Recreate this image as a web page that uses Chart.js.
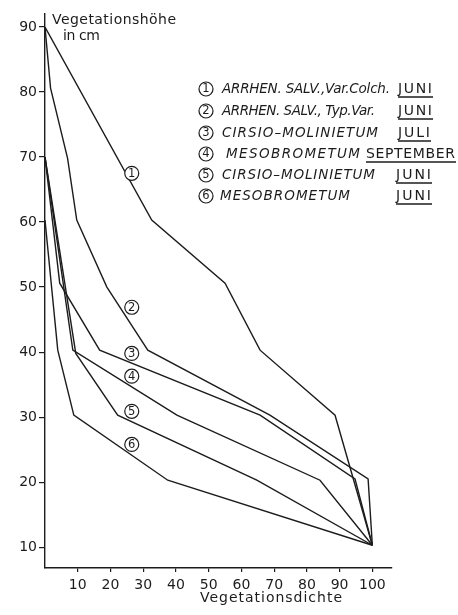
<!DOCTYPE html>
<html>
<head>
<meta charset="utf-8">
<script src="https://cdn.jsdelivr.net/npm/chart.js@4"></script>
<style>
  html, body { margin: 0; background: #fff; }
  #chart { display: block; }
</style>
</head>
<body>
<canvas id="chart" width="458" height="615"></canvas>
<script>
// density (x) and height (y) for each curve
const curve1Dens = [0, 32.6, 55.0, 65.7, 88.6, 100]
const curve1Height = [90, 60.3, 50.6, 40.3, 30.3, 10.3]
const curve2Dens = [0, 1.7, 6.9, 9.7, 18.9, 31.4, 68.7, 98.7, 100]
const curve2Height = [90, 80.6, 69.8, 60.3, 50.0, 40.3, 30.3, 20.5, 10.3]
const curve3Dens = [0, 4.5, 16.7, 65.7, 94.7, 100]
const curve3Height = [70, 50.6, 40.3, 30.3, 20.5, 10.3]
const curve4Dens = [0, 8.5, 40.3, 84.0, 100]
const curve4Height = [70, 40.3, 30.3, 20.3, 10.3]
const curve5Dens = [0, 9.4, 22.2, 64.7, 100]
const curve5Height = [70, 39.8, 30.3, 20.3, 10.3]
const curve6Dens = [0, 3.9, 8.8, 37.5, 100]
const curve6Height = [60.3, 40.3, 30.3, 20.3, 10.3]

const xTicks = [10, 20, 30, 40, 50, 60, 70, 80, 90, 100]
const yTicks = [10, 20, 30, 40, 50, 60, 70, 80, 90]

const legendNames = ['ARRHEN. SALV.,Var.Colch.', 'ARRHEN. SALV., Typ.Var.', 'CIRSIO–MOLINIETUM',
  'MESOBROMETUM', 'CIRSIO–MOLINIETUM', 'MESOBROMETUM']
const legendMonths = ['JUNI', 'JUNI', 'JULI', 'SEPTEMBER', 'JUNI', 'JUNI']

const INK = '#1c1c1c'
const FONT = '"DejaVu Sans", sans-serif'

const curves = [
  [curve1Dens, curve1Height], [curve2Dens, curve2Height], [curve3Dens, curve3Height],
  [curve4Dens, curve4Height], [curve5Dens, curve5Height], [curve6Dens, curve6Height]
]

const datasets = curves.map(([xs, ys], i) => ({
  label: String(i + 1),
  data: xs.map((x, j) => ({ x, y: ys[j] })),
  showLine: true,
  borderColor: INK,
  borderWidth: 1.4,
  pointRadius: 0,
  tension: 0
}))

// draw text stretched to a given width
function fitText(ctx, text, x, y, w) {
  ctx.letterSpacing = '0px'
  const m = ctx.measureText(text).width
  const ls = (w - m) / Math.max(text.length - 1, 1)
  ctx.letterSpacing = ls + 'px'
  ctx.fillText(text, x, y)
  ctx.letterSpacing = '0px'
}

function circledNumber(ctx, n, cx, cy, r) {
  ctx.beginPath()
  ctx.arc(cx, cy, r, 0, Math.PI * 2)
  ctx.fillStyle = '#fff'
  ctx.fill()
  ctx.lineWidth = 1.2
  ctx.strokeStyle = INK
  ctx.stroke()
  ctx.fillStyle = INK
  ctx.font = '11.5px ' + FONT
  ctx.textAlign = 'center'
  ctx.textBaseline = 'middle'
  ctx.fillText(String(n), cx, cy + 0.5)
}

// curve labels sit on the lines at density ~26.5
const markDens = 26.5
const markHeight = [67.5, 46.9, 39.8, 36.3, 30.9, 25.8]

const extras = {
  id: 'extras',
  afterDraw(chart) {
    const ctx = chart.ctx
    const xs = chart.scales.x, ys = chart.scales.y
    ctx.save()
    ctx.fillStyle = INK
    ctx.textAlign = 'left'
    ctx.textBaseline = 'middle'
    ctx.font = '14px ' + FONT
    fitText(ctx, 'Vegetationshöhe', 52, 20, 124)
    fitText(ctx, 'in cm', 63, 36, 37)
    fitText(ctx, 'Vegetationsdichte', 200, 598, 142)

    markHeight.forEach((h, i) => {
      circledNumber(ctx, i + 1, xs.getPixelForValue(markDens), ys.getPixelForValue(h), 7)
    })

    const rowY = [89, 111, 133, 154, 175, 196]
    const nameX = [222, 222, 222, 226, 222, 220]
    const nameW = [168, 153, 156, 134, 153, 130]
    const monX = [398, 398, 398, 366, 396, 396]
    const monW = [34, 34, 32, 89, 35, 35]
    legendNames.forEach((name, i) => {
      circledNumber(ctx, i + 1, 206, rowY[i], 7)
      ctx.fillStyle = INK
      ctx.textAlign = 'left'
      ctx.textBaseline = 'middle'
      ctx.font = 'italic 13.5px ' + FONT
      fitText(ctx, name, nameX[i], rowY[i], nameW[i])
      ctx.font = '14px ' + FONT
      fitText(ctx, legendMonths[i], monX[i], rowY[i], monW[i])
      ctx.beginPath()
      ctx.moveTo(monX[i], rowY[i] + 8)
      ctx.lineTo(monX[i] + monW[i] + 1, rowY[i] + 8)
      ctx.lineWidth = 1.3
      ctx.strokeStyle = INK
      ctx.stroke()
    })
    ctx.restore()
  }
}

new Chart(document.getElementById('chart'), {
  type: 'scatter',
  data: { datasets },
  plugins: [extras],
  options: {
    responsive: false,
    animation: false,
    layout: { padding: { top: 14, right: 66, left: 0, bottom: 0 } },
    plugins: { legend: { display: false }, tooltip: { enabled: false } },
    scales: {
      x: {
        type: 'linear', min: 0, max: 106,
        afterBuildTicks: s => { s.ticks = xTicks.map(v => ({ value: v })) },
        afterFit: s => { s.height = 47 },
        grid: { drawOnChartArea: false, drawTicks: true, tickLength: 4, color: INK, lineWidth: 1.2 },
        border: { display: true, color: INK, width: 1.4 },
        ticks: { color: INK, font: { family: FONT, size: 14 }, padding: 5, maxRotation: 0 }
      },
      y: {
        type: 'linear', min: 6.8, max: 92,
        afterBuildTicks: s => { s.ticks = yTicks.map(v => ({ value: v })) },
        afterFit: s => { s.width = 45 },
        grid: { drawOnChartArea: false, drawTicks: true, tickLength: 6, color: INK, lineWidth: 1.2 },
        border: { display: true, color: INK, width: 1.4 },
        ticks: { color: INK, font: { family: FONT, size: 14 }, padding: 2 }
      }
    }
  }
})
</script>
</body>
</html>
